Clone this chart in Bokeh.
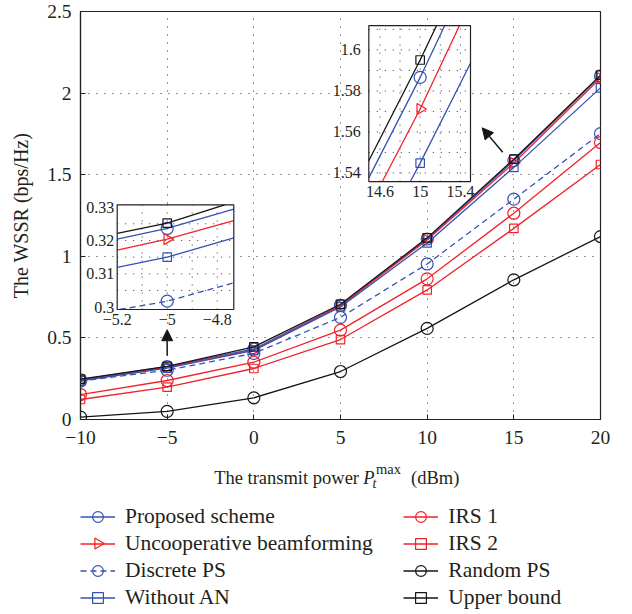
import numpy as np
from bokeh.plotting import figure
from bokeh.layouts import column
from bokeh.models import (Range1d, FixedTicker, Legend, LegendItem, Arrow, NormalHead)
from bokeh.core.properties import value
from bokeh.embed import file_html
from bokeh.resources import INLINE

# ---------------- data ----------------
power_dbm = [-10, -5, 0, 5, 10, 15, 20]
proposed_scheme = [0.2436, 0.3236, 0.432, 0.700, 1.106, 1.5866, 2.105]
uncooperative_bf = [0.2380, 0.3204, 0.425, 0.697, 1.100, 1.5712, 2.092]
discrete_ps = [0.2360, 0.3018, 0.405, 0.626, 0.953, 1.350, 1.752]
without_an = [0.2375, 0.3150, 0.4235, 0.690, 1.082, 1.5448, 2.032]
irs_1 = [0.153, 0.239, 0.351, 0.548, 0.862, 1.264, 1.697]
irs_2 = [0.1225, 0.198, 0.3125, 0.490, 0.794, 1.171, 1.5625]
random_ps = [0.015, 0.050, 0.133, 0.294, 0.558, 0.856, 1.121]
upper_bound = [0.2477, 0.3252, 0.445, 0.706, 1.113, 1.5951, 2.110]

series_names = ["Proposed scheme", "Uncooperative beamforming", "Discrete PS",
                "Without AN", "IRS 1", "IRS 2", "Random PS", "Upper bound"]
series_values = [proposed_scheme, uncooperative_bf, discrete_ps, without_an,
                 irs_1, irs_2, random_ps, upper_bound]

x_ticks = [-10, -5, 0, 5, 10, 15, 20]
x_tick_labels = ["\u221210", "\u22125", "0", "5", "10", "15", "20"]
y_ticks = [0, 0.5, 1, 1.5, 2, 2.5]
y_tick_labels = ["0", "0.5", "1", "1.5", "2", "2.5"]

inset1_x_ticks = [-5.2, -5.0, -4.8]
inset1_x_labels = ["\u22125.2", "\u22125", "\u22124.8"]
inset1_y_ticks = [0.30, 0.31, 0.32, 0.33]
inset1_y_labels = ["0.3", "0.31", "0.32", "0.33"]
inset1_x_grid = [-5.1, -5.0, -4.9, -4.8]
inset1_y_grid = [0.305, 0.31, 0.315, 0.32, 0.325]

inset2_x_ticks = [14.6, 15.0, 15.4]
inset2_x_labels = ["14.6", "15", "15.4"]
inset2_y_ticks = [1.54, 1.56, 1.58, 1.60]
inset2_y_labels = ["1.54", "1.56", "1.58", "1.6"]
inset2_x_grid = [14.6, 14.8, 15.0, 15.2, 15.4]
inset2_y_grid = [1.54, 1.55, 1.56, 1.57, 1.58, 1.59, 1.60, 1.61]

# ---------------- styles ----------------
BLUE = "#3353b3"
RED = "#f2222a"
BLACK = "#151515"
TXT = "#231f20"
FONT = "Liberation Serif"

styles = [  # color, dash, marker, main size, inset size, angle
    (BLUE, "solid", "circle", 12, 12, 0.0),
    (RED, "solid", "triangle", 11, 11, -np.pi / 2),
    (BLUE, "6 4", "circle", 12, 12, 0.0),
    (BLUE, "solid", "square", 8.5, 8.5, 0.0),
    (RED, "solid", "circle", 12, 12, 0.0),
    (RED, "solid", "square", 8.5, 8.5, 0.0),
    (BLACK, "solid", "circle", 12, 12, 0.0),
    (BLACK, "solid", "square", 8.5, 8.5, 0.0),
]

FRAME_L, FRAME_R = 80, 32

p = figure(width=632, height=458, x_range=Range1d(-10, 20), y_range=Range1d(0, 2.5),
           output_backend="svg", toolbar_location=None,
           min_border_left=FRAME_L, min_border_right=FRAME_R, min_border_top=11,
           min_border_bottom=39)
p.background_fill_color = "white"
p.border_fill_color = "white"
p.outline_line_color = "#222222"
p.outline_line_width = 1.2

for ax in (p.xaxis[0], p.yaxis[0]):
    ax.axis_line_color = "#222222"
    ax.axis_line_width = 1.2
    ax.major_tick_in = 5
    ax.major_tick_out = 0
    ax.minor_tick_line_color = None
    ax.major_tick_line_color = "#222222"
    ax.major_label_text_font = FONT
    ax.major_label_text_font_size = "19.5px"
    ax.major_label_text_color = TXT

p.xaxis.ticker = FixedTicker(ticks=x_ticks)
p.xaxis.major_label_overrides = {t: l for t, l in zip(x_ticks, x_tick_labels)}
p.xaxis.major_label_standoff = 11
p.yaxis.ticker = FixedTicker(ticks=y_ticks)
p.yaxis.major_label_overrides = {t: l for t, l in zip(y_ticks, y_tick_labels)}
p.yaxis.major_label_standoff = 9
p.yaxis.axis_label = "The WSSR (bps/Hz)"
p.yaxis.axis_label_text_font = FONT
p.yaxis.axis_label_text_font_style = "normal"
p.yaxis.axis_label_text_font_size = "20px"
p.yaxis.axis_label_text_color = TXT
p.yaxis.axis_label_standoff = 12

for g in (p.xgrid[0], p.ygrid[0]):
    g.grid_line_color = "#333333"
    g.grid_line_dash = "1 7"
    g.grid_line_width = 1
p.xgrid.ticker = FixedTicker(ticks=x_ticks[1:-1])
p.ygrid.ticker = FixedTicker(ticks=y_ticks[1:-1])

# ---------------- main series ----------------
for vals, (col, dash, mk, ms, _, ang) in zip(series_values, styles):
    p.line(power_dbm, vals, line_color=col, line_width=1.3, line_dash=dash)
    p.scatter(power_dbm, vals, marker=mk, size=ms, angle=ang, line_color=col,
              line_width=1.2, fill_color=None)


# ---------------- insets ----------------
def clip_polyline(xs, ys, x0, x1, y0, y1):
    out_x, out_y = [], []
    cx, cy = [], []
    for i in range(len(xs) - 1):
        ax_, ay_, bx_, by_ = xs[i], ys[i], xs[i + 1], ys[i + 1]
        dx, dy = bx_ - ax_, by_ - ay_
        t0, t1 = 0.0, 1.0
        ok = True
        for pp, qq in ((-dx, ax_ - x0), (dx, x1 - ax_), (-dy, ay_ - y0), (dy, y1 - ay_)):
            if pp == 0:
                if qq < 0:
                    ok = False
                    break
            else:
                r = qq / pp
                if pp < 0:
                    if r > t1:
                        ok = False
                        break
                    t0 = max(t0, r)
                else:
                    if r < t0:
                        ok = False
                        break
                    t1 = min(t1, r)
        if not ok:
            if cx:
                out_x.append(cx)
                out_y.append(cy)
                cx, cy = [], []
            continue
        sx, sy = ax_ + t0 * dx, ay_ + t0 * dy
        ex, ey = ax_ + t1 * dx, ay_ + t1 * dy
        if cx and abs(cx[-1] - sx) < 1e-12 and abs(cy[-1] - sy) < 1e-12:
            cx.append(ex)
            cy.append(ey)
        else:
            if cx:
                out_x.append(cx)
                out_y.append(cy)
            cx, cy = [sx, ex], [sy, ey]
    if cx:
        out_x.append(cx)
        out_y.append(cy)
    return out_x, out_y


def add_inset(xwin, ywin, xtarget, ytarget, xgrid, ygrid, xt, xl, yt, yl, ylab_off):
    sub = p.subplot(x_source=Range1d(*xwin), y_source=Range1d(*ywin),
                    x_target=Range1d(*xtarget), y_target=Range1d(*ytarget))
    sub.quad(left=xwin[0], right=xwin[1], bottom=ywin[0], top=ywin[1],
             fill_color="white", line_color=None)
    sub.segment(x0=xgrid, y0=[ywin[0]] * len(xgrid), x1=xgrid, y1=[ywin[1]] * len(xgrid),
                line_color="#333333", line_dash="1 7", line_width=1)
    sub.segment(x0=[xwin[0]] * len(ygrid), y0=ygrid, x1=[xwin[1]] * len(ygrid), y1=ygrid,
                line_color="#333333", line_dash="1 7", line_width=1)
    for vals, (col, dash, mk, _, ims, ang) in zip(series_values, styles):
        mx, my = clip_polyline(power_dbm, vals, xwin[0], xwin[1], ywin[0], ywin[1])
        if mx:
            sub.multi_line(xs=mx, ys=my, line_color=col, line_width=1.3, line_dash=dash)
        inside = [(x, y) for x, y in zip(power_dbm, vals)
                  if xwin[0] <= x <= xwin[1] and ywin[0] <= y <= ywin[1]]
        if inside:
            sub.scatter([q[0] for q in inside], [q[1] for q in inside], marker=mk,
                        size=ims, angle=ang, line_color=col, line_width=1.2,
                        fill_color=None)
    sub.quad(left=xwin[0], right=xwin[1], bottom=ywin[0], top=ywin[1],
             fill_color=None, line_color="#222222", line_width=1.2)
    sub.text(x=xt, y=[ywin[0]] * len(xt), text=xl, text_align="center",
             text_baseline="top", y_offset=4, text_font=value(FONT),
             text_font_size="16px", text_color=TXT)
    sub.text(x=[xwin[0]] * len(yt), y=yt, text=yl, text_align="right",
             text_baseline="middle", x_offset=-ylab_off, text_font=value(FONT),
             text_font_size="16px", text_color=TXT)


add_inset((-5.2, -4.7336), (0.2993, 0.3307), (-7.883, -1.156), (0.674, 1.3156),
          inset1_x_grid, inset1_y_grid, inset1_x_ticks, inset1_x_labels,
          inset1_y_ticks, inset1_y_labels, 3)
add_inset((14.49, 15.5), (1.5358, 1.6119), (6.633, 12.5), (1.458, 2.414),
          inset2_x_grid, inset2_y_grid, inset2_x_ticks, inset2_x_labels,
          inset2_y_ticks, inset2_y_labels, 8)

# ---------------- arrows ----------------
p.add_layout(Arrow(end=NormalHead(size=11, fill_color=BLACK, line_color=BLACK),
                   x_start=-5, y_start=0.39, x_end=-5, y_end=0.55,
                   line_color=BLACK, line_width=1.5))
p.add_layout(Arrow(end=NormalHead(size=11, fill_color=BLACK, line_color=BLACK),
                   x_start=14.36, y_start=1.638, x_end=13.175, y_end=1.787,
                   line_color=BLACK, line_width=1.5))

# ---------------- bottom strip: x-axis title and legend ----------------
# frame aligned with the main frame; ranges chosen so that x, y are page pixels
p2 = figure(width=632, height=156, x_range=Range1d(FRAME_L, 632 - FRAME_R),
            y_range=Range1d(614, 458), output_backend="svg", toolbar_location=None,
            min_border_left=FRAME_L, min_border_right=FRAME_R, min_border_top=0,
            min_border_bottom=0, x_axis_type=None, y_axis_type=None)
p2.grid.visible = False
p2.outline_line_color = None
p2.background_fill_color = "white"
p2.border_fill_color = "white"

title_pieces = [  # text, x, y, align, size, style
    ("The transmit power", 358.5, 477, "right", "18.5px", "normal"),
    ("P", 362.7, 477, "left", "18.5px", "italic"),
    ("t", 372.0, 483, "left", "14px", "italic"),
    ("max", 375.5, 468, "left", "14.5px", "normal"),
    ("(dBm)", 410.5, 477, "left", "18.5px", "normal"),
]
for txt, tx, ty, al, fs, st in title_pieces:
    p2.text(x=[tx], y=[ty], text=[txt], text_align=al, text_baseline="alphabetic",
            text_font=value(FONT), text_font_size=fs, text_font_style=st,
            text_color=TXT)

GLYPH_W, ROW_H = 35, 27
LEG_BOTTOM_GAP = 3.5
LEG2_X = 323.3
leg_top = 614 - LEG_BOTTOM_GAP - 4 * ROW_H

legend_items = []
for i, (name, (col, dash, mk, ms, _, ang)) in enumerate(zip(series_names, styles)):
    lr = p2.line([np.nan], [np.nan], line_color=col, line_width=1.3, line_dash=dash)
    if ang != 0.0:
        # legend glyphs ignore the marker angle: draw the rotated marker in place
        col_x = FRAME_L + (0 if i < 4 else LEG2_X) + GLYPH_W / 2
        row_y = leg_top + (i % 4 + 0.5) * ROW_H
        p2.scatter([col_x], [row_y], marker=mk, size=10.8, angle=ang, line_color=col,
                   line_width=1.2, fill_color=None)
        legend_items.append(LegendItem(label=name, renderers=[lr]))
    else:
        sr = p2.scatter([np.nan], [np.nan], marker=mk, size=ms, line_color=col,
                        line_width=1.2, fill_color=None)
        legend_items.append(LegendItem(label=name, renderers=[lr, sr]))

leg_common = dict(label_text_font=FONT, label_text_font_size="21.5px",
                  label_text_color=TXT, glyph_width=GLYPH_W, glyph_height=ROW_H,
                  label_height=ROW_H, label_standoff=10, spacing=0, padding=0,
                  margin=0, border_line_color=None, background_fill_alpha=0)
p2.add_layout(Legend(items=legend_items[:4], location=(0, LEG_BOTTOM_GAP), **leg_common))
p2.add_layout(Legend(items=legend_items[4:], location=(LEG2_X, LEG_BOTTOM_GAP),
                     **leg_common))

layout = column(p, p2, spacing=0)
open("out.html", "w").write(file_html(layout, INLINE))
